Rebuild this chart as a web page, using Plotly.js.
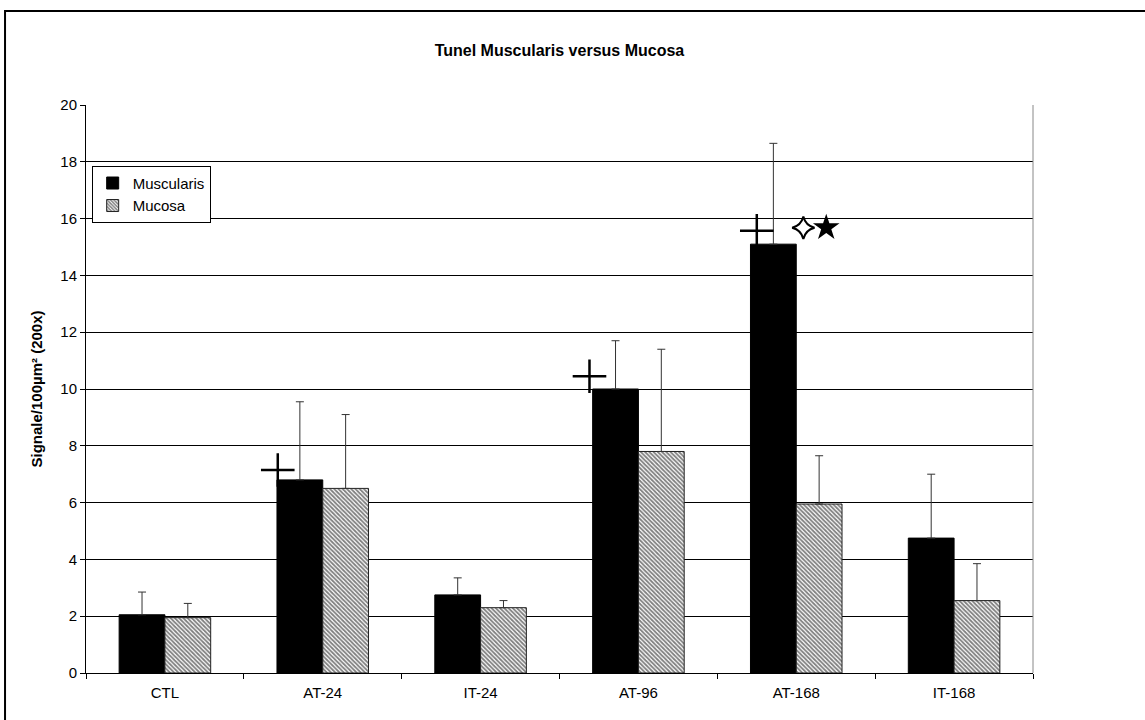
<!DOCTYPE html>
<html>
<head>
<meta charset="utf-8">
<script src="https://cdn.plot.ly/plotly-3.0.1.min.js"></script>
<style>
html,body{margin:0;padding:0;background:#fff;}
#chart{width:1145px;height:720px;}
</style>
</head>
<body>
<div id="chart"></div>
<script>
// ---- data ----
const categories = ["CTL", "AT-24", "IT-24", "AT-96", "AT-168", "IT-168"];
const muscularis = [2.05, 6.8, 2.75, 10.0, 15.1, 4.75];
const muscularisErr = [0.8, 2.75, 0.6, 1.7, 3.55, 2.25];
const mucosa = [1.95, 6.5, 2.3, 7.8, 5.95, 2.55];
const mucosaErr = [0.5, 2.6, 0.25, 3.6, 1.7, 1.3];

// significance marks: category index, offset (category units), y value
const crossIdx = [1, 3, 4];
const crossOffset = [-0.285, -0.31, -0.25];
const crossY = [7.15, 10.45, 15.57];
const star4Idx = [4];
const star4Offset = [0.045];
const star4Y = [15.68];
const starIdx = [4];
const starOffset = [0.19];
const starY = [15.68];

const font = "Arial, 'Liberation Sans', sans-serif";

const traces = [
  {
    type: "bar", name: "Muscularis", x: categories, y: muscularis,
    marker: {color: "#000000", line: {color: "#000000", width: 1}},
    error_y: {type: "data", array: muscularisErr, symmetric: false, arrayminus: muscularis.map(() => 0),
              color: "#333333", thickness: 1, width: 4}
  },
  {
    type: "bar", name: "Mucosa", x: categories, y: mucosa,
    marker: {color: "#ffffff", line: {color: "#222222", width: 1},
             pattern: {shape: "\\", size: 3, solidity: 0.6, fgcolor: "#000000", bgcolor: "#ffffff", fillmode: "overlay"}},
    error_y: {type: "data", array: mucosaErr, symmetric: false, arrayminus: mucosa.map(() => 0),
              color: "#333333", thickness: 1, width: 4}
  },
  {
    type: "scatter", mode: "markers", xaxis: "x2", yaxis: "y", showlegend: false, hoverinfo: "skip",
    x: crossIdx.map((c, i) => c + crossOffset[i]), y: crossY,
    marker: {symbol: "cross-thin-open", size: 24, color: "#000", line: {color: "#000", width: 2.5}}
  },
  {
    type: "scatter", mode: "markers", xaxis: "x2", yaxis: "y", showlegend: false, hoverinfo: "skip",
    x: star4Idx.map((c, i) => c + star4Offset[i]), y: star4Y,
    marker: {symbol: "star-diamond-open", size: 16, color: "#000", line: {color: "#000", width: 2}}
  },
  {
    type: "scatter", mode: "markers", xaxis: "x2", yaxis: "y", showlegend: false, hoverinfo: "skip",
    x: starIdx.map((c, i) => c + starOffset[i]), y: starY,
    marker: {symbol: "star", size: 20, color: "#000", line: {width: 0}}
  }
];

const layout = {
  width: 1145, height: 720,
  margin: {l: 86, r: 112, t: 105, b: 47, pad: 0},
  paper_bgcolor: "#ffffff", plot_bgcolor: "#ffffff",
  font: {family: font, size: 15, color: "#000"},
  barmode: "group", bargap: 0.42, bargroupgap: 0,
  title: {text: "<b>Tunel Muscularis versus Mucosa</b>", font: {family: font, size: 16, color: "#000"},
          x: 0.4886, xanchor: "center", y: 0.93, yanchor: "middle"},
  xaxis: {
    type: "category", showline: true, linecolor: "#000", linewidth: 1,
    ticks: "outside", tickson: "boundaries", ticklen: 5, tickcolor: "#000",
    ticklabelstandoff: 6,
    tickfont: {family: font, size: 15, color: "#000"}, showgrid: false, zeroline: false
  },
  xaxis2: {overlaying: "x", range: [-0.5, 5.5], visible: false, fixedrange: true},
  yaxis: {
    range: [0, 20], dtick: 2, showline: true, linecolor: "#000", linewidth: 1,
    ticks: "outside", ticklen: 5, tickcolor: "#000",
    showgrid: true, gridcolor: "#000", gridwidth: 1, zeroline: false,
    tickfont: {family: font, size: 15, color: "#000"},
    title: {text: "<b>Signale/100µm² (200x)</b>", font: {family: font, size: 15, color: "#000"}, standoff: 14}
  },
  legend: {
    x: 0.006, y: 0.893, xanchor: "left", yanchor: "top",
    bgcolor: "#ffffff", bordercolor: "#000", borderwidth: 1,
    font: {family: font, size: 15, color: "#000"}, tracegroupgap: 0, itemwidth: 30
  },
  shapes: [
    {type: "line", xref: "paper", yref: "paper", x0: 1, x1: 1, y0: 0, y1: 1, line: {color: "#888", width: 1}},
    {type: "rect", xref: "paper", yref: "paper", x0: -0.0855, x1: 1.14, y0: -0.12, y1: 1.1655,
     line: {color: "#000", width: 2}, fillcolor: "rgba(0,0,0,0)"}
  ],
  showlegend: true
};

Plotly.newPlot("chart", traces, layout, {displayModeBar: false, staticPlot: true});
</script>
</body>
</html>
